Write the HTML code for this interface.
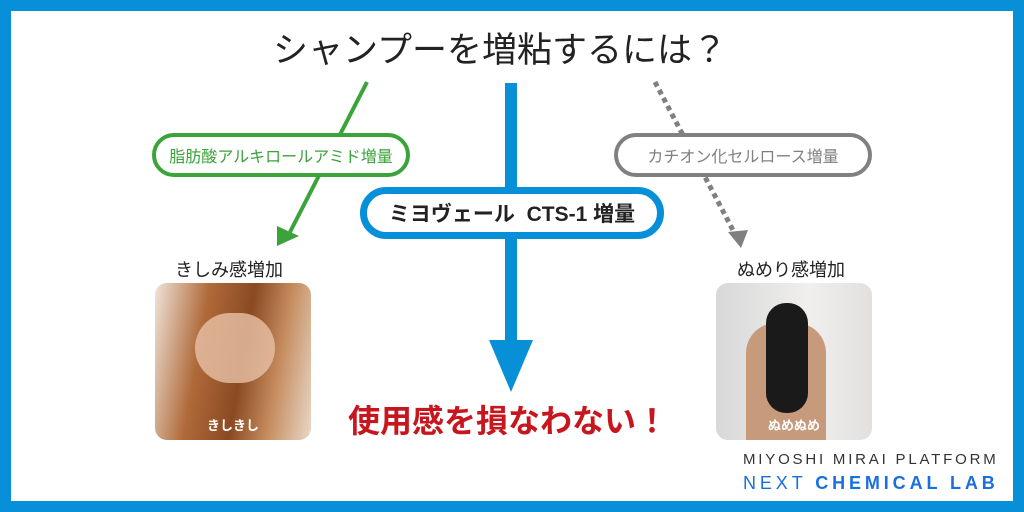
<!DOCTYPE html>
<html><head><meta charset="utf-8"><style>
body{margin:0;width:1024px;height:512px;overflow:hidden;background:#fff;font-family:"Liberation Sans","Noto Sans CJK JP",sans-serif;}
.fr{position:absolute;left:0;top:0;width:1024px;height:512px;box-sizing:border-box;border-style:solid;border-color:#0790d8;border-width:11px 11px 11px 11px;}
.t{position:absolute;white-space:nowrap;}
.box{position:absolute;box-sizing:border-box;border-radius:24px;display:flex;align-items:center;justify-content:center;background:#fff;}
.ph{position:absolute;border-radius:12px;overflow:hidden;}
</style></head><body>
<div class="fr"></div>
<div class="t" style="left:0;width:1000px;text-align:center;top:22px;font-size:35px;color:#222;">シャンプーを増粘するには？</div>
<svg width="1024" height="512" style="position:absolute;left:0;top:0">
<line x1="367" y1="82" x2="290" y2="232" stroke="#3aa33a" stroke-width="4"/>
<polygon points="277,246 277,226 299,236" fill="#3aa33a"/>
<line x1="655" y1="82" x2="735" y2="234" stroke="#808080" stroke-width="5" stroke-dasharray="5,4"/>
<polygon points="741,248 728,232 748,230" fill="#808080"/>
<line x1="511" y1="83" x2="511" y2="345" stroke="#0790d8" stroke-width="12"/>
<polygon points="489,340 533,340 511,392" fill="#0790d8"/>
</svg>
<div class="box" style="left:152px;top:133px;width:258px;height:44px;border:4px solid #3aa33a;color:#3aa33a;font-size:16px;">脂肪酸アルキロールアミド増量</div>
<div class="box" style="left:614px;top:133px;width:258px;height:44px;border:4px solid #808080;color:#808080;font-size:16px;">カチオン化セルロース増量</div>
<div class="box" style="left:360px;top:187px;width:304px;height:52px;border:7px solid #0790d8;color:#222;font-size:21px;font-weight:bold;border-radius:28px;">ミヨヴェール&nbsp; CTS-1 増量</div>
<div class="t" style="left:175px;top:256px;font-size:18px;color:#222;">きしみ感増加</div>
<div class="t" style="left:737px;top:256px;font-size:18px;color:#222;">ぬめり感増加</div>
<div class="ph" style="left:155px;top:283px;width:156px;height:157px;background:linear-gradient(100deg,#efe4da 0%,#b06a3a 30%,#8a4a22 55%,#c48a5c 75%,#e8d8c8 100%);">
<div style="position:absolute;left:40px;top:30px;width:80px;height:70px;border-radius:40px;background:#e9c2a8;opacity:.8"></div>
<div class="t" style="left:0;width:156px;text-align:center;top:132px;color:#fff;font-size:13px;font-weight:bold;">きしきし</div></div>
<div class="ph" style="left:716px;top:283px;width:156px;height:157px;background:linear-gradient(90deg,#d8d8d8,#f0efee 60%,#e2e0de);">
<div style="position:absolute;left:30px;top:40px;width:80px;height:117px;border-radius:30px 30px 0 0;background:#c79a7c"></div>
<div style="position:absolute;left:50px;top:20px;width:42px;height:110px;border-radius:20px;background:#1a1a1a"></div>
<div class="t" style="left:0;width:156px;text-align:center;top:132px;color:#fff;font-size:13px;font-weight:bold;">ぬめぬめ</div></div>
<div class="t" style="left:0;width:1016px;text-align:center;top:396px;font-size:32px;font-weight:bold;color:#c8161e;">使用感を損なわない！</div>
<div class="t" style="left:743px;top:451px;font-size:15px;letter-spacing:2.8px;color:#333;">MIYOSHI MIRAI PLATFORM</div>
<div class="t" style="left:743px;top:473px;font-size:18px;letter-spacing:3.9px;color:#1a6fe0;">NEXT <b>CHEMICAL LAB</b></div>
</body></html>
